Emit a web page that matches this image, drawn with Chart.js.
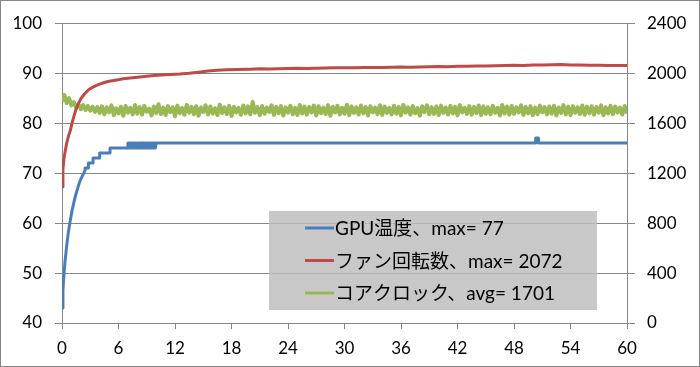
<!DOCTYPE html>
<html>
<head>
<meta charset="utf-8">
<script src="https://cdn.jsdelivr.net/npm/chart.js@4"></script>
<style>
  html, body { margin: 0; padding: 0; background: #fff; }
  canvas { display: block; }
</style>
</head>
<body>
<canvas id="chart" width="700" height="367"></canvas>
<script>
// GPU temperature (left axis), minutes -> deg C
const gpuTime = [0, 0.1, 0.2, 0.32, 0.5, 0.65, 0.85, 1.1, 1.38, 1.65, 1.9, 2.2, 2.45,
  2.45, 2.8, 2.8, 3.3, 3.3, 4.0, 4.0, 5.1, 5.1, 7.0, 7.0,
  7.1, 7.1, 7.2, 7.2, 7.3, 7.3, 7.4, 7.4, 7.5, 7.5, 7.6, 7.6, 7.7, 7.7, 7.8, 7.8, 7.9, 7.9,
  8.0, 8.0, 8.1, 8.1, 8.2, 8.2, 8.3, 8.3, 8.4, 8.4, 8.5, 8.5, 8.6, 8.6, 8.7, 8.7, 8.8, 8.8, 8.9, 8.9,
  9.0, 9.0, 9.1, 9.1, 9.2, 9.2, 9.3, 9.3, 9.4, 9.4, 9.5, 9.5, 9.6, 9.6, 9.7, 9.7, 9.8, 9.8, 9.9, 9.9, 10.0,
  50.3, 50.3, 50.6, 50.6, 60]
const gpuTemp = [43, 46.5, 49.5, 52.3, 55.5, 57.8, 60.2, 62.8, 65.1, 66.9, 68.4, 69.6, 70.5,
  71, 71, 72, 72, 73, 73, 74, 74, 75, 75, 76,
  76, 75, 75, 76, 76, 75, 75, 76, 76, 75, 75, 76, 76, 75, 75, 76, 76, 75,
  75, 76, 76, 75, 75, 76, 76, 75, 75, 76, 76, 75, 75, 76, 76, 75, 75, 76, 76, 75,
  75, 76, 76, 75, 75, 76, 76, 75, 75, 76, 76, 75, 75, 76, 76, 75, 75, 76, 76, 75, 76,
  76, 77, 77, 76, 76]

// fan speed (right axis), minutes -> rpm
const fanTime = [0, 0.1, 0.2, 0.35, 0.5, 0.7, 0.9, 1.1, 1.4, 1.7, 2.0, 2.4, 2.8, 3.2, 3.6, 4.0,
  4.5, 5.0, 5.8, 6.5, 7.5, 8.5, 9.5, 10.5, 11.5, 12.5, 13.5, 14.5, 15.5, 16.5, 17.5, 18.5,
  20, 21, 22, 23, 24, 25, 26, 27, 28, 29, 30, 31, 32, 33, 34, 35, 36, 37, 38, 39, 40,
  41, 42, 43, 44, 45, 46, 47, 48, 49, 50, 51, 52, 53, 54, 55, 56, 57, 58, 59, 60]
const fanRpm = [1090, 1230, 1310, 1380, 1440, 1500, 1545, 1610, 1690, 1750, 1795, 1835, 1865, 1885, 1900, 1912,
  1925, 1935, 1946, 1955, 1964, 1972, 1979, 1985, 1990, 1994, 2000, 2008, 2017, 2024, 2027, 2030,
  2032, 2035, 2034, 2036, 2037, 2039, 2038, 2040, 2041, 2043, 2044, 2043, 2045, 2046, 2046, 2048, 2049, 2048, 2050, 2052, 2053,
  2052, 2055, 2056, 2058, 2057, 2060, 2061, 2063, 2062, 2065, 2066, 2068, 2070, 2066, 2065, 2064, 2063, 2062, 2062, 2061]

// core clock (right axis), one reading every 15 s
const clockMhz = [
  1775, 1825, 1760, 1800, 1742, 1768, 1725, 1752, 1712, 1745, 1705, 1738, 1700, 1732, 1690, 1728,
  1682, 1735, 1670, 1726, 1688, 1742, 1664, 1719, 1678, 1731, 1659, 1737, 1684, 1722, 1670, 1745,
  1676, 1729, 1668, 1738, 1691, 1716, 1662, 1733, 1680, 1751, 1673, 1724, 1665, 1736, 1687, 1727,
  1655, 1740, 1679, 1721, 1667, 1746, 1683, 1730, 1671, 1735, 1660, 1725, 1690, 1742, 1669, 1733,
  1676, 1719, 1664, 1748, 1681, 1727, 1672, 1738, 1658, 1731, 1686, 1723, 1667, 1741, 1678, 1734,
  1670, 1770, 1683, 1728, 1663, 1737, 1675, 1724, 1689, 1743, 1666, 1730, 1679, 1736, 1661, 1726,
  1684, 1739, 1671, 1722, 1665, 1745, 1677, 1732, 1668, 1729, 1686, 1740, 1662, 1735, 1680, 1725,
  1673, 1744, 1659, 1731, 1685, 1738, 1670, 1723, 1676, 1747, 1664, 1734, 1682, 1727, 1669, 1741,
  1678, 1729, 1661, 1736, 1687, 1724, 1672, 1743, 1666, 1733, 1681, 1722, 1670, 1739, 1675, 1730,
  1663, 1746, 1684, 1726, 1668, 1737, 1679, 1721, 1660, 1735, 1688, 1742, 1671, 1728, 1674, 1733,
  1665, 1740, 1682, 1725, 1669, 1738, 1677, 1731, 1662, 1744, 1686, 1723, 1673, 1736, 1667, 1729,
  1680, 1741, 1664, 1734, 1675, 1727, 1670, 1739, 1683, 1722, 1661, 1745, 1678, 1732, 1668, 1737,
  1674, 1726, 1685, 1743, 1666, 1730, 1679, 1735, 1663, 1724, 1672, 1740, 1687, 1728, 1669, 1733,
  1676, 1738, 1662, 1725, 1681, 1744, 1670, 1731, 1665, 1736, 1684, 1727, 1673, 1741, 1667, 1732,
  1679, 1735, 1668, 1729, 1683, 1742, 1664, 1726, 1677, 1739, 1671, 1733, 1686, 1724, 1669, 1737,
  1678]
const clockStep = 0.25 // minutes between readings

const seriesNames = ['GPU温度、max= 77', 'ファン回転数、max= 2072', 'コアクロック、avg= 1701']
const seriesColors = ['#4A7EBB', '#BE4B48', '#98B954']

const pairs = (xs, ys) => ys.map((y, i) => ({ x: xs[i], y }))
const clockTime = clockMhz.map((_, i) => i * clockStep)

const axisGray = '#868686'
const tickFont = { family: 'Lato, "Noto Sans CJK JP", sans-serif', size: 17 }
const plain = v => String(v)

const legendBox = {
  id: 'legendBox',
  afterDatasetsDraw (chart) {
    const { ctx } = chart
    ctx.save()
    ctx.fillStyle = 'rgba(189,189,189,0.84)'
    ctx.fillRect(269, 211, 328, 99)
    ctx.font = '19px Lato, "Noto Sans CJK JP", sans-serif'
    ctx.textBaseline = 'middle'
    ctx.fillStyle = '#000'
    const rows = [228, 260.5, 293]
    chart.data.datasets.forEach((ds, i) => {
      ctx.strokeStyle = ds.borderColor
      ctx.lineWidth = 3
      ctx.beginPath()
      ctx.moveTo(305, rows[i])
      ctx.lineTo(334, rows[i])
      ctx.stroke()
      ctx.fillText(ds.label, 335, rows[i] + 1)
    })
    ctx.restore()
  }
}

const frame = {
  id: 'frame',
  afterDraw (chart) {
    const { ctx } = chart
    ctx.save()
    ctx.strokeStyle = axisGray
    ctx.lineWidth = 1
    ctx.strokeRect(0.5, 0.5, 699, 366)
    ctx.restore()
  }
}

const config = {
  type: 'line',
  data: {
    datasets: [
      { label: seriesNames[0], data: pairs(gpuTime, gpuTemp), borderColor: seriesColors[0], yAxisID: 'y' },
      { label: seriesNames[1], data: pairs(fanTime, fanRpm), borderColor: seriesColors[1], yAxisID: 'y1' },
      { label: seriesNames[2], data: pairs(clockTime, clockMhz), borderColor: seriesColors[2], yAxisID: 'y1', borderWidth: 4 }
    ]
  },
  options: {
    responsive: false,
    animation: false,
    layout: { padding: { top: 17 } },
    elements: {
      point: { radius: 0 },
      line: { borderWidth: 3, tension: 0, borderJoinStyle: 'round' }
    },
    plugins: {
      legend: { display: false },
      tooltip: { enabled: false }
    },
    scales: {
      x: {
        type: 'linear',
        min: 0,
        max: 60,
        ticks: { stepSize: 6, color: '#000', font: tickFont, padding: 9, maxRotation: 0, callback: plain },
        grid: { drawOnChartArea: false, tickLength: 6, color: axisGray },
        border: { color: axisGray },
        afterFit: s => { s.height = 44 }
      },
      y: {
        position: 'left',
        min: 40,
        max: 100,
        ticks: { stepSize: 10, color: '#000', font: tickFont, padding: 13, callback: plain },
        grid: { color: axisGray, tickLength: 7 },
        border: { color: axisGray },
        afterFit: s => { s.width = 62 }
      },
      y1: {
        position: 'right',
        min: 0,
        max: 2400,
        ticks: { stepSize: 400, color: '#000', font: tickFont, padding: 12, callback: plain },
        grid: { drawOnChartArea: false, tickLength: 8, color: axisGray },
        border: { color: axisGray },
        afterFit: s => { s.width = 73 }
      }
    }
  },
  plugins: [legendBox, frame]
}

new Chart(document.getElementById('chart'), config)
</script>
</body>
</html>
